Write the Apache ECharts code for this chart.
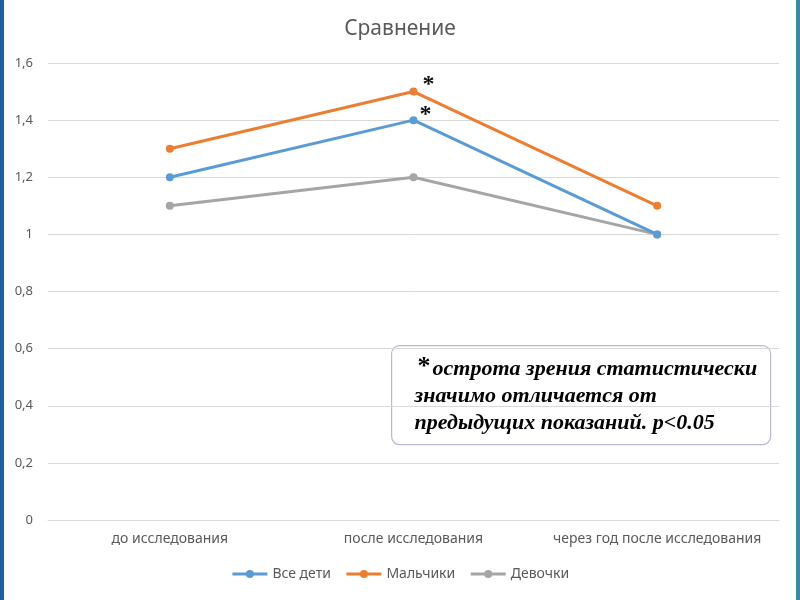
<!DOCTYPE html>
<html><head><meta charset="utf-8">
<script src="https://cdn.jsdelivr.net/npm/echarts@6/dist/echarts.min.js"></script>
<style>html,body{margin:0;padding:0;background:#fff}#c{width:800px;height:600px}</style>
</head><body><div id="c"></div>
<script>
const categories = ['до исследования', 'после исследования', 'через год после исследования'];
const allKids = [1.2, 1.4, 1.0];
const boys = [1.3, 1.5, 1.1];
const girls = [1.1, 1.2, 1.0];
const seriesNames = ['Все дети', 'Мальчики', 'Девочки'];
const colors = ['#5B9BD5', '#ED7D31', '#A5A5A5'];
const yTicks = { min: 0, max: 1.6, interval: 0.2 };
const noteLines = ['острота зрения статистически', 'значимо отличается от', 'предыдущих показаний. p<0.05'];

const chart = echarts.init(document.getElementById('c'), null, { renderer: 'canvas' });
function starData(arr, idx, off) {
  return arr.map((v, i) => i === idx ? {
    value: v,
    label: { show: true, formatter: '*', position: 'inside', offset: off,
      fontFamily: 'Liberation Serif', fontWeight: 'bold', fontSize: 24, color: '#111',
      verticalAlign: 'middle', align: 'center' }
  } : v);
}
const mk = (name, data, color, z) => ({
  name, type: 'line', data, z,
  lineStyle: { width: 3, color }, itemStyle: { color },
  symbol: 'circle', symbolSize: 8, showSymbol: true,
  label: { show: false }
});
const noteStyle = { fontFamily: 'Liberation Serif', fontStyle: 'italic', fontWeight: 'bold', fontSize: 22, fill: '#000', verticalAlign: 'middle' };
chart.setOption({
  animation: false,
  title: { text: 'Сравнение', left: 'center', top: 14,
    textStyle: { fontFamily: 'Noto Sans', fontWeight: 'normal', fontSize: 21, color: '#595959' } },
  grid: { left: 48, right: 21, top: 63, bottom: 80 },
  xAxis: { type: 'category', data: categories, boundaryGap: true,
    axisLine: { lineStyle: { color: '#d9d9d9' } }, axisTick: { show: false },
    axisLabel: { color: '#595959', fontSize: 14, margin: 12, fontFamily: 'Noto Sans', interval: 0 } },
  yAxis: { type: 'value', min: yTicks.min, max: yTicks.max, interval: yTicks.interval,
    axisLine: { show: false }, axisTick: { show: false },
    splitLine: { lineStyle: { color: '#d9d9d9', width: 1 } },
    axisLabel: { color: '#595959', fontSize: 13, margin: 15, fontFamily: 'Noto Sans',
      formatter: v => String(Math.round(v * 10) / 10).replace('.', ',') } },
  legend: { bottom: 14, left: 'center', itemWidth: 35, itemHeight: 10, itemGap: 14,
    data: seriesNames, lineStyle: { width: 3 },
    textStyle: { color: '#595959', fontSize: 14, fontFamily: 'Noto Sans' } },
  series: [
    mk(seriesNames[0], starData(allKids, 1, [12, -5]), colors[0], 3),
    mk(seriesNames[1], starData(boys, 1, [15, -7]), colors[1], 4),
    mk(seriesNames[2], girls, colors[2], 2)
  ],
  graphic: [
    { type: 'rect', left: 0, top: 0, shape: { width: 4, height: 600 }, style: { fill: '#1f5f9e' } },
    { type: 'rect', left: 796, top: 0, shape: { width: 4, height: 600 }, style: { fill: '#3a8aa4' } },
    { type: 'group', left: 391, top: 345, children: [
      { type: 'rect', shape: { x: 0, y: 0, width: 379, height: 99, r: 8 },
        style: { fill: '#fff', stroke: '#b8b8d8', lineWidth: 1.2 } },
      { type: 'text', x: 26, y: 22, style: { text: '*', fontFamily: 'Liberation Serif', fontWeight: 'bold', fontSize: 26, fill: '#000', align: 'left', verticalAlign: 'middle' } },
      { type: 'text', x: 41, y: 24, style: Object.assign({ text: noteLines[0] }, noteStyle) },
      { type: 'text', x: 23, y: 51, style: Object.assign({ text: noteLines[1] }, noteStyle) },
      { type: 'text', x: 23, y: 78, style: Object.assign({ text: noteLines[2] }, noteStyle) }
    ]}
  ]
});
</script></body></html>
